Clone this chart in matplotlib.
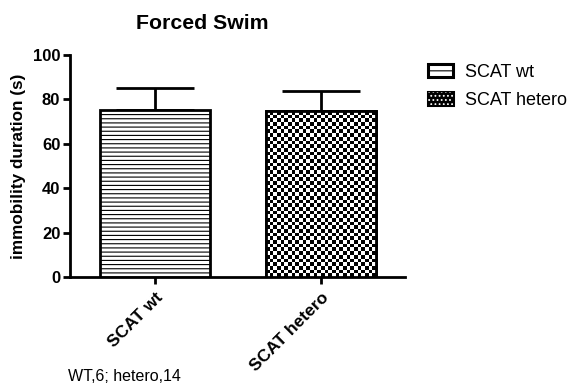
import numpy as np
import matplotlib.pyplot as plt
from matplotlib.patches import Rectangle
from matplotlib.legend_handler import HandlerPatch

plt.rcParams['font.family'] = ['Liberation Sans', 'DejaVu Sans']
plt.rcParams['hatch.linewidth'] = 0.8

groups = ['SCAT wt', 'SCAT hetero']
means = [75.2, 74.8]
errors = [9.8, 9.2]
yticks = [0, 20, 40, 60, 80, 100]
note = 'WT,6; hetero,14'


def checker(rows, cols):
    r, c = np.indices((rows, cols))
    return (r + c) % 2


class CheckerHandler(HandlerPatch):
    # black swatch with white dots for the checkered group
    def create_artists(self, legend, orig_handle, xdescent, ydescent,
                       width, height, fontsize, trans):
        base = Rectangle((-xdescent, -ydescent), width, height,
                         facecolor='black', edgecolor='black', lw=2.2,
                         transform=trans)
        dots = Rectangle((-xdescent, -ydescent), width, height,
                         facecolor='none', edgecolor='white', hatch='....',
                         lw=0, transform=trans)
        return [base, dots]


fig = plt.figure(figsize=(5.7, 3.9), dpi=100)
ax = fig.add_axes([0.1228, 0.2897, 0.5877, 0.569])

x = np.arange(len(groups))
width = 0.66
bars = ax.bar(x, means, width=width, color='white', edgecolor='black',
              linewidth=2, zorder=3)
bars[0].set_hatch('----')
ax.errorbar(x, means, yerr=[np.zeros(len(errors)), errors], fmt='none',
            ecolor='black', elinewidth=2, capsize=28, capthick=2, zorder=2)

# checkerboard fill clipped to the second bar
b = bars[1]
x0, y0 = b.get_x(), b.get_y()
img = ax.imshow(checker(45, 30), cmap='gray_r', vmin=0, vmax=1,
                interpolation='nearest', aspect='auto', origin='lower',
                extent=[x0, x0 + b.get_width(), y0, y0 + b.get_height()],
                zorder=3.5)
img.set_clip_path(b)
edge = Rectangle((x0, y0), b.get_width(), b.get_height(), fill=False,
                 edgecolor='black', linewidth=2, zorder=4)
ax.add_patch(edge)
ax.set_xlim(-0.51, 1.506)
ax.set_ylim(0, 100)

for s in ['top', 'right']:
    ax.spines[s].set_visible(False)
for s in ['left', 'bottom']:
    ax.spines[s].set_linewidth(2)

ax.set_yticks(yticks)
ax.set_xticks(x)
ax.set_xticklabels(groups, rotation=45, ha='right', rotation_mode='anchor',
                   fontweight='bold', fontsize=12.5)
ax.tick_params(axis='both', width=2, length=5)
ax.tick_params(axis='y', labelsize=12, pad=2)
ax.tick_params(axis='x', pad=4)
for t in ax.get_yticklabels():
    t.set_fontweight('bold')
ax.set_ylabel('immobility duration (s)', fontsize=12.3, fontweight='bold',
              labelpad=5)

fig.text(0.355, 0.94, 'Forced Swim', ha='center', va='center',
         fontsize=15.3, fontweight='bold')
fig.text(0.12, 0.022, note, fontsize=11.5)

h_wt = Rectangle((0, 0), 1, 1, facecolor='white', edgecolor='black',
                 hatch='--', lw=2.2)
h_het = Rectangle((0, 0), 1, 1)
ax.legend([h_wt, h_het], groups, loc='upper left',
          bbox_to_anchor=(0.722, 0.878), bbox_transform=fig.transFigure,
          frameon=False, fontsize=13, handlelength=1.4,
          handleheight=0.7, handletextpad=0.65, labelspacing=0.6,
          handler_map={h_het: CheckerHandler()})

fig.savefig('out.png', dpi=100)
